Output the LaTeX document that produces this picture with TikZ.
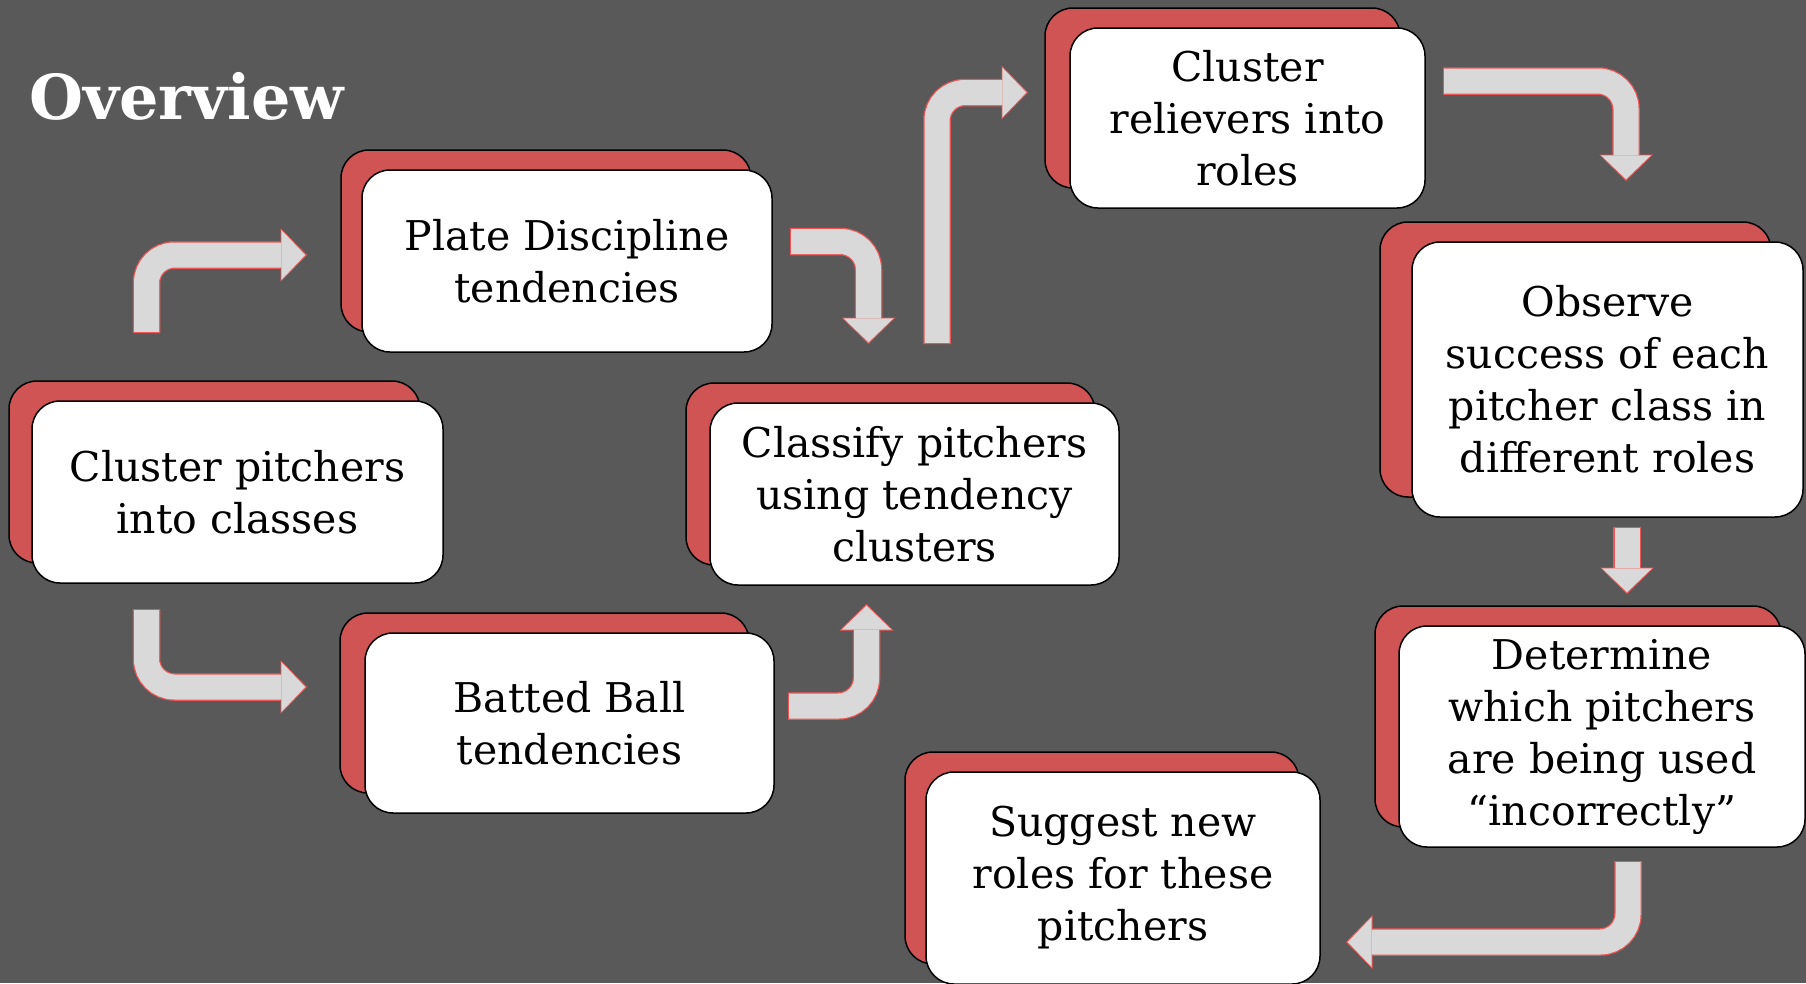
\documentclass[tikz,border=0pt]{standalone}
\usepackage{fontspec}
\setmainfont{DejaVu Serif}
\usetikzlibrary{arrows.meta,shadows}

\definecolor{slidegray}{HTML}{595959}
\definecolor{cardred}{HTML}{D05454}
\definecolor{flowfill}{HTML}{D9D9D9}
\definecolor{flowline}{HTML}{EE5555}

\tikzset{
	card/.style={draw=black, line width=1.5pt, fill=white, rounded corners=28pt,
		align=center, inner sep=0pt, font=\fontsize{41}{52}\selectfont,
		copy shadow={shadow xshift=#1, shadow yshift=20pt, fill=cardred, draw=black, line width=1.5pt}},
	card/.default=-23pt,
	flowback/.style={draw=flowline, line width=27.5pt, rounded corners=28pt,
		-{Triangle[width=54pt,length=26.5pt,line width=0pt]}},
	flowfront/.style={draw=flowfill, line width=25pt, rounded corners=28pt,
		shorten <=1.2pt, shorten >=1.7pt, -{Triangle[width=50pt,length=24pt,line width=0pt]}}
}
\newcommand{\flowarrow}[1]{\draw[flowback] #1; \draw[flowfront] #1;}

\begin{document}
\begin{tikzpicture}[x=1pt,y=-1pt]
	\useasboundingbox[fill=slidegray] (0,0) rectangle (1806,983);
	\node[anchor=base west, text=white, font=\bfseries\fontsize{62}{72}\selectfont] (title) at (26,119) {Overview};

	% steps
	\node[card, minimum width=411pt, minimum height=182pt] (cp) at (237.5,492) {Cluster pitchers\\into classes};
	\node[card=-21pt, minimum width=410pt, minimum height=182pt] (pd) at (567,261) {Plate Discipline\\tendencies};
	\node[card=-25pt, minimum width=409pt, minimum height=180pt] (bb) at (569.5,723) {Batted Ball\\tendencies};
	\node[card=-24pt, minimum width=409pt, minimum height=182pt] (cl) at (914.5,494) {Classify pitchers\\using tendency\\clusters};
	\node[card=-25pt, minimum width=355pt, minimum height=180pt] (cr) at (1247.5,118) {Cluster\\relievers into\\roles};
	\node[card=-32pt, minimum width=391pt, minimum height=275pt] (ob) at (1607.5,379.5) {Observe\\success of each\\pitcher class in\\different roles};
	\node[card=-24pt, minimum width=406pt, minimum height=221pt] (de) at (1602,736.5) {Determine\\which pitchers\\are being used\\“incorrectly”};
	\node[card=-21pt, minimum width=394pt, minimum height=212pt] (su) at (1123,878) {Suggest new\\roles for these\\pitchers};

	% arrow ends
	\coordinate (cp-pd) at (146.5,333);
	\coordinate (pd-in) at (307,255);
	\coordinate (cp-bb) at (146.5,609);
	\coordinate (bb-in) at (307,687);
	\coordinate (pd-cl) at (790,241.5);
	\coordinate (cl-top) at (868.5,344);
	\coordinate (bb-cl) at (788,706);
	\coordinate (cl-bot) at (866.5,604);
	\coordinate (cl-cr) at (937,344);
	\coordinate (cr-in) at (1028,92.5);
	\coordinate (cr-ob) at (1443,81);
	\coordinate (ob-in) at (1626,181);
	\coordinate (ob-de) at (1627,527);
	\coordinate (de-in) at (1627,594);
	\coordinate (de-su) at (1628,861);
	\coordinate (su-in) at (1346,942);

	\flowarrow{(cp-pd) |- (pd-in)}
	\flowarrow{(cp-bb) |- (bb-in)}
	\flowarrow{(pd-cl) -| (cl-top)}
	\flowarrow{(bb-cl) -| (cl-bot)}
	\flowarrow{(cl-cr) |- (cr-in)}
	\flowarrow{(cr-ob) -| (ob-in)}
	\flowarrow{(ob-de) -- (de-in)}
	\flowarrow{(de-su) |- (su-in)}
\end{tikzpicture}
\end{document}
